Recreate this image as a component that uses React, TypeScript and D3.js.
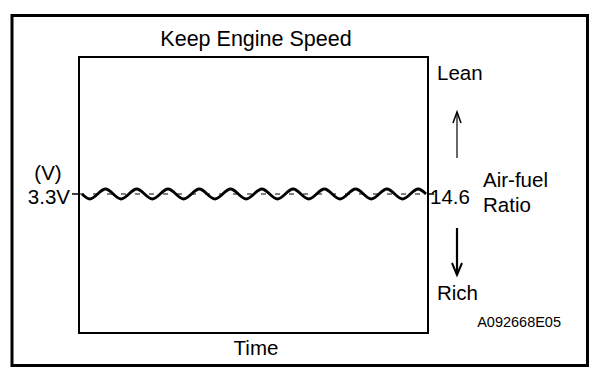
import React from "react";
import * as d3 from "d3";

// Time steps (quarter periods) and sensor voltage (V)
const voltage: number[] = [
  3.3, 3.18, 3.3, 3.42, 3.3, 3.18, 3.3, 3.42, 3.3, 3.18, 3.3, 3.42,
  3.3, 3.18, 3.3, 3.42, 3.3, 3.18, 3.3, 3.42, 3.3, 3.18, 3.3, 3.42,
  3.3, 3.18, 3.3, 3.42, 3.3, 3.18, 3.3, 3.42, 3.3, 3.18, 3.3, 3.42,
  3.3, 3.18, 3.3, 3.42, 3.3, 3.18, 3.3, 3.42, 3.3,
];
const timeSteps: number[] = voltage.map((_, i) => i);
const referenceVoltage = 3.3;
const voltageDomain: [number, number] = [0, 6.6];

const title = "Keep Engine Speed";
const xLabel = "Time";
const yUnit = "(V)";
const leftTick = "3.3V";
const rightTick = "14.6";
const leanLabel = "Lean";
const richLabel = "Rich";
const ratioLabel = ["Air-fuel", "Ratio"];
const figureId = "A092668E05";

const W = 608;
const H = 388;
const FONT = "'Liberation Sans', Arial, sans-serif";
const FS = 20.5;

export default function App() {
  const plot = { left: 79, right: 428, top: 57, bottom: 333 };
  const x = d3.scaleLinear().domain([0, timeSteps.length - 1]).range([82, 426]);
  const y = d3.scaleLinear().domain(voltageDomain).range([plot.bottom, plot.top]);
  const line = d3
    .line<number>()
    .x((_, i) => x(timeSteps[i]))
    .y((d) => y(d))
    .curve(d3.curveNatural);
  const yRef = y(referenceVoltage) - 1;

  return (
    <svg
      width={W}
      height={H}
      style={{ position: "absolute", left: 0, top: 0, background: "#fff" }}
      fontFamily={FONT}
    >
      <rect x={0} y={0} width={W} height={H} fill="#fff" />
      {/* outer frame */}
      <rect x={12} y={15.5} width={575.5} height={350} fill="none" stroke="#000" strokeWidth={3} />
      {/* plot box */}
      <rect
        x={plot.left}
        y={plot.top}
        width={plot.right - plot.left}
        height={plot.bottom - plot.top}
        fill="none"
        stroke="#000"
        strokeWidth={2}
      />
      {/* title */}
      <text x={256} y={46} fontSize={21.5} textAnchor="middle" fill="#000">
        {title}
      </text>
      {/* reference dashed line */}
      <line
        x1={plot.left}
        x2={plot.right}
        y1={yRef}
        y2={yRef}
        stroke="#000"
        strokeWidth={1}
        strokeDasharray="5 9"
      />
      {/* ticks */}
      <line x1={72} x2={plot.left} y1={yRef} y2={yRef} stroke="#000" strokeWidth={1.5} />
      <line x1={plot.right} x2={434} y1={yRef} y2={yRef} stroke="#000" strokeWidth={1.5} />
      {/* wave */}
      <g transform="translate(0,-1)">
        <path d={line(voltage) || ""} fill="none" stroke="#000" strokeWidth={2.8} />
      </g>
      {/* left labels */}
      <text x={48} y={180} fontSize={FS} textAnchor="middle" fill="#000">
        {yUnit}
      </text>
      <text x={70} y={204} fontSize={FS} textAnchor="end" fill="#000">
        {leftTick}
      </text>
      {/* right labels */}
      <text x={430} y={204} fontSize={FS} fill="#000">
        {rightTick}
      </text>
      <text x={483} y={187} fontSize={FS} fill="#000">
        {ratioLabel[0]}
      </text>
      <text x={483} y={212} fontSize={FS} fill="#000">
        {ratioLabel[1]}
      </text>
      <text x={437} y={80} fontSize={FS} fill="#000">
        {leanLabel}
      </text>
      <text x={437} y={300} fontSize={FS} fill="#000">
        {richLabel}
      </text>
      {/* arrows */}
      <line x1={457} x2={457} y1={158} y2={113} stroke="#000" strokeWidth={1.2} />
      <polyline points="453,123 457,112 461,123" fill="none" stroke="#000" strokeWidth={1.5} />
      <line x1={457} x2={457} y1={228} y2={275} stroke="#000" strokeWidth={2.2} />
      <polyline points="452,263 457,275 462,263" fill="none" stroke="#000" strokeWidth={2} />
      {/* x label */}
      <text x={256} y={355} fontSize={FS} textAnchor="middle" fill="#000">
        {xLabel}
      </text>
      {/* figure id */}
      <text x={561} y={327} fontSize={14.5} textAnchor="end" fill="#000">
        {figureId}
      </text>
    </svg>
  );
}
